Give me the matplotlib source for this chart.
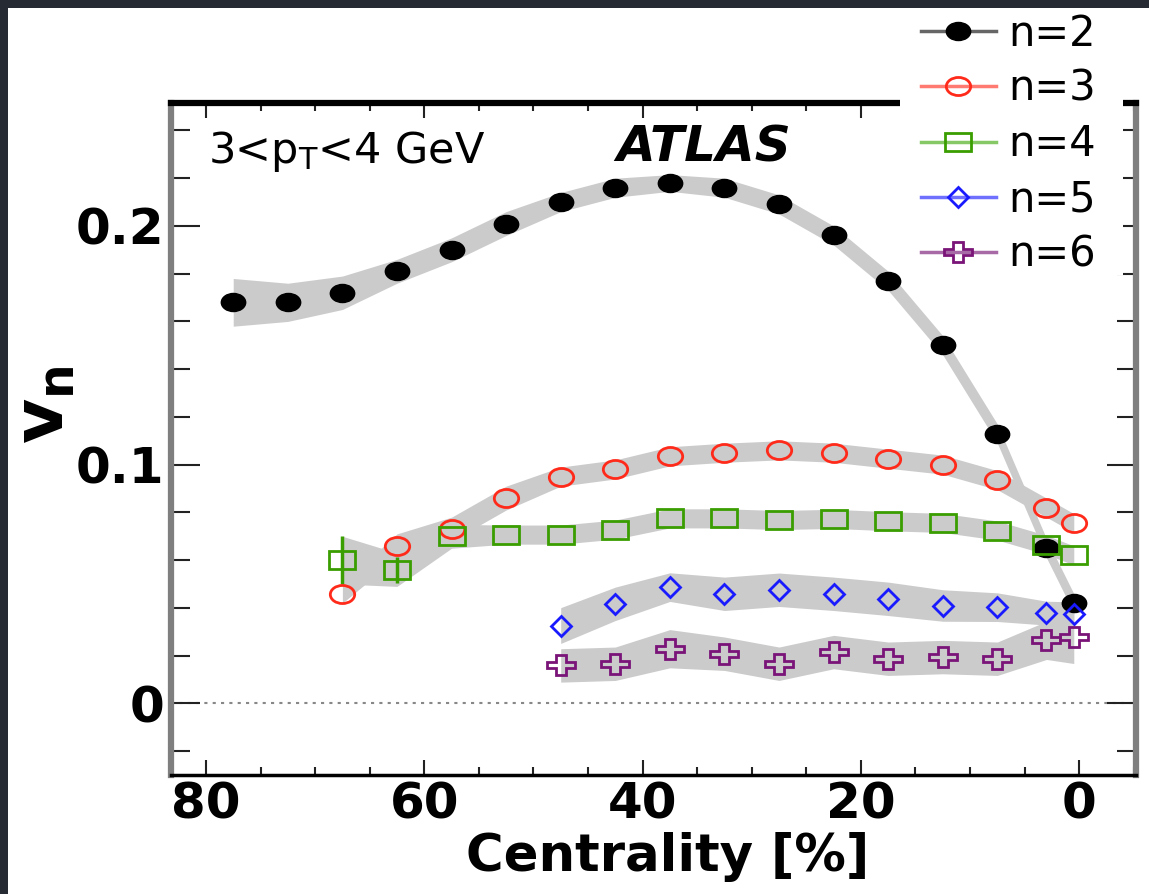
import matplotlib
matplotlib.use("Agg")
import matplotlib.pyplot as plt
from matplotlib.lines import Line2D
from matplotlib.markers import MarkerStyle
from matplotlib.patches import Rectangle
from matplotlib.ticker import MultipleLocator
from matplotlib.transforms import Affine2D

# centrality bin centres [%]
cent_v2 = [77.5, 72.5, 67.5, 62.5, 57.5, 52.5, 47.5, 42.5, 37.5, 32.5, 27.5, 22.5, 17.5, 12.5, 7.5, 3.0, 0.5]
cent_v34 = [67.5, 62.5, 57.5, 52.5, 47.5, 42.5, 37.5, 32.5, 27.5, 22.5, 17.5, 12.5, 7.5, 3.0, 0.5]
cent_v56 = [47.5, 42.5, 37.5, 32.5, 27.5, 22.5, 17.5, 12.5, 7.5, 3.0, 0.5]

# v_n values and systematic half-widths (gray bands)
v2 = [0.168, 0.168, 0.172, 0.181, 0.190, 0.201, 0.210, 0.216, 0.218, 0.216, 0.209, 0.196, 0.177, 0.150, 0.113, 0.065, 0.042]
v2_sys = [0.010, 0.008, 0.007, 0.005, 0.005, 0.005, 0.004, 0.004, 0.0035, 0.004, 0.004, 0.004, 0.004, 0.004, 0.004, 0.004, 0.004]

v3 = [0.046, 0.066, 0.073, 0.086, 0.095, 0.098, 0.1035, 0.105, 0.106, 0.105, 0.1025, 0.100, 0.0935, 0.082, 0.0755]
v3_sys = [0.004, 0.005, 0.005, 0.005, 0.004, 0.004, 0.004, 0.004, 0.004, 0.004, 0.004, 0.004, 0.004, 0.004, 0.004]

v4 = [0.060, 0.056, 0.070, 0.0707, 0.0707, 0.0728, 0.0775, 0.0775, 0.0768, 0.0773, 0.0763, 0.0756, 0.0724, 0.0664, 0.062]
v4_sys = [0.010, 0.007, 0.005, 0.004, 0.004, 0.004, 0.004, 0.004, 0.004, 0.004, 0.004, 0.004, 0.004, 0.004, 0.004]
# statistical errors, only the peripheral ones stick out of the markers
v4_stat = [0.010, 0.0055, 0, 0, 0, 0, 0, 0, 0, 0, 0, 0, 0, 0, 0]

v5 = [0.0326, 0.0417, 0.0487, 0.0459, 0.0476, 0.0459, 0.0438, 0.0410, 0.0403, 0.0378, 0.0375]
v5_sys = [0.0075, 0.007, 0.006, 0.007, 0.007, 0.007, 0.007, 0.0066, 0.006, 0.005, 0.005]

v6 = [0.0159, 0.0166, 0.0229, 0.0208, 0.0166, 0.0215, 0.0187, 0.0194, 0.0187, 0.0264, 0.0277]
v6_sys = [0.007, 0.007, 0.008, 0.007, 0.007, 0.007, 0.007, 0.007, 0.007, 0.008, 0.011]

labels = ["n=2", "n=3", "n=4", "n=5", "n=6"]
colors = ["black", "#ff2a1a", "#3a9e00", "#1a1aff", "#7a1478"]
line_colors = ["#666666", "#ff7a70", "#86c866", "#7070ff", "#a86aa6"]

BAND = "#cbcbcb"

# ROOT-like markers, slightly wider than tall
markers = [
    dict(marker=MarkerStyle("o", transform=Affine2D().scale(1.35, 1.0)), ms=13, mfc="black", mew=1),
    dict(marker=MarkerStyle("o", transform=Affine2D().scale(1.35, 1.0)), ms=13, mfc="none", mew=2),
    dict(marker=MarkerStyle("s", transform=Affine2D().scale(1.45, 1.0)), ms=12.5, mfc="none", mew=2),
    dict(marker=MarkerStyle("D"), ms=10.5, mfc="none", mew=2),
    dict(marker=MarkerStyle("P", transform=Affine2D().scale(1.3, 1.0)), ms=15, mfc="none", mew=2),
]

series = [
    (cent_v2, v2, v2_sys),
    (cent_v34, v3, v3_sys),
    (cent_v34, v4, v4_sys),
    (cent_v56, v5, v5_sys),
    (cent_v56, v6, v6_sys),
]

W, H = 1149, 894
fig = plt.figure(figsize=(W / 100, H / 100), dpi=100)
fig.patch.set_facecolor("#262b33")
fig.add_artist(Rectangle((8 / W, 0), 1, 1 - 8 / H, transform=fig.transFigure,
                         facecolor="white", edgecolor="none", zorder=-1))

ax = fig.add_axes([171 / W, 1 - 775 / H, (1136 - 171) / W, (775 - 103) / H])

# systematic bands first, then the points on top
for (c, v, s) in series:
    lo = [a - b for a, b in zip(v, s)]
    hi = [a + b for a, b in zip(v, s)]
    ax.fill_between(c, lo, hi, color=BAND, lw=0, zorder=1)

ax.axhline(0, color="#888888", lw=1.5, ls=(0, (1.5, 2.5)), zorder=1.5)

ax.errorbar(cent_v34[:2], v4[:2], yerr=v4_stat[:2], fmt="none", ecolor=colors[2],
            elinewidth=2.5, capsize=0, zorder=2)

for (c, v, s), col, mk in zip(series, colors, markers):
    ax.plot(c, v, ls="none", color=col, mec=col, zorder=3, **mk)

ax.set_xlim(83.2, -5.2)
ax.set_ylim(-0.03, 0.2515)
ax.xaxis.set_major_locator(MultipleLocator(20))
ax.xaxis.set_minor_locator(MultipleLocator(5))
ax.yaxis.set_major_locator(MultipleLocator(0.1))
ax.yaxis.set_minor_locator(MultipleLocator(0.02))
ax.set_yticks([0, 0.1, 0.2])
ax.set_yticklabels(["0", "0.1", "0.2"])

ax.tick_params(which="both", direction="in", top=True, right=True, color="#222222", width=1.5)
ax.tick_params(axis="x", which="major", length=11, pad=4)
ax.tick_params(axis="x", which="minor", length=5.5)
ax.tick_params(axis="y", which="major", length=21, pad=5)
ax.tick_params(axis="y", which="minor", length=14)
for lab in ax.get_xticklabels() + ax.get_yticklabels():
    lab.set_fontsize(36)
    lab.set_fontweight("bold")

ax.spines["left"].set_color("#7f7f7f")
ax.spines["right"].set_color("#7f7f7f")
ax.spines["left"].set_linewidth(4.5)
ax.spines["right"].set_linewidth(4.5)
ax.spines["top"].set_linewidth(4.5)
ax.spines["bottom"].set_linewidth(2.5)

fig.text(668 / W, 1 - 857 / H, "Centrality [%]", fontsize=37, fontweight="bold",
         ha="center", va="center")
fig.text(44 / W, 1 - 405 / H, r"$\mathbf{v}_\mathbf{n}$", fontsize=50,
         rotation=90, ha="center", va="center")

fig.text(208 / W, 1 - 163 / H, r"3<p$_{\mathrm{T}}$<4 GeV", fontsize=31, va="baseline")
fig.text(616 / W, 1 - 162 / H, "ATLAS", fontsize=36, fontweight="bold", fontstyle="italic",
         va="baseline")

# white patch behind the legend hides the top frame there
fig.add_artist(Rectangle((900 / W, 1 - 275 / H), (1123 - 900) / W, (275 - 8) / H,
                         transform=fig.transFigure, facecolor="white", edgecolor="none", zorder=4))

handles = [Line2D([], [], color=lc, lw=2.5, mec=col, **mk)
           for lc, col, mk in zip(line_colors, colors, markers)]
fig.legend(handles, labels, loc="upper left", bbox_to_anchor=(921 / W, 1 - 12.5 / H),
           frameon=False, borderpad=0, borderaxespad=0, handlelength=1.79,
           handletextpad=0.3, labelspacing=0.32, fontsize=30)

fig.savefig("out.png", dpi=100, facecolor=fig.get_facecolor())
